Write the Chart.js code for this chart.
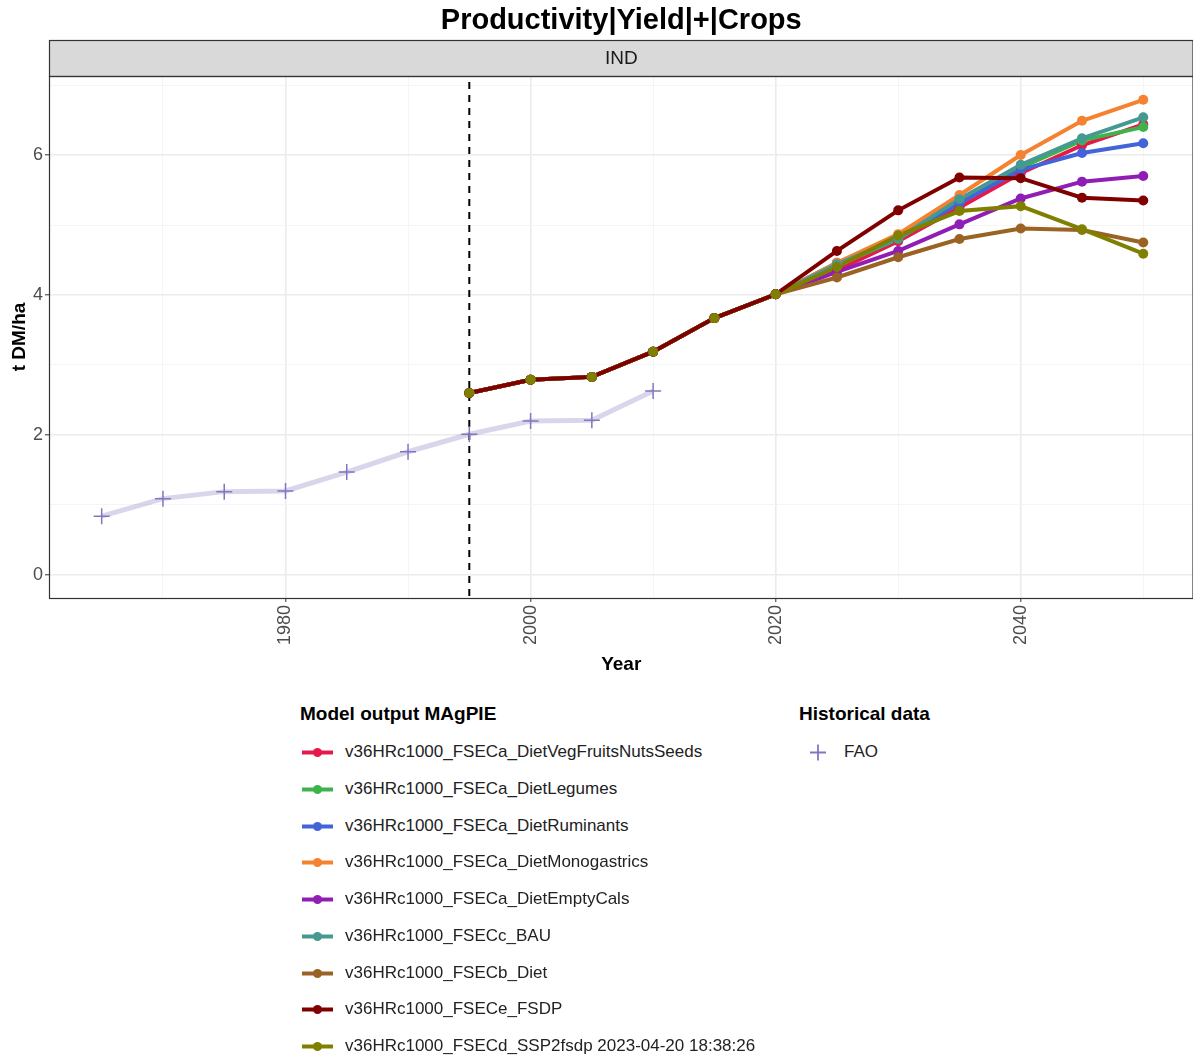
<!DOCTYPE html>
<html lang="en">
<head>
  <meta charset="UTF-8" />
  <title>Productivity|Yield|+|Crops</title>
  <script src="https://cdn.jsdelivr.net/npm/chart.js"></script>
  <style>
    html, body {
      margin: 0;
      overflow: hidden;
      background: #ffffff;
      font-family: 'Liberation Sans', Arial, sans-serif;
      color: #1a1a1a;
    }
    .wrap {
      position: relative;
      width: 1193px;
      height: 1059px;
      overflow: hidden;
    }
    #yieldChart {
      position: absolute;
      left: 0;
      top: 0;
    }
    .legend-group {
      position: absolute;
      top: 702px;
    }
    .legend-group h3 {
      margin: 0 0 8px 0;
      font-size: 19px;
      font-weight: bold;
      height: 24px;
      line-height: 24px;
      color: #000;
    }
    .legend-item {
      position: relative;
      height: 36.75px;
      line-height: 36.75px;
      font-size: 17px;
      color: #222;
      padding-left: 45px;
      white-space: nowrap;
    }
    .legend-item canvas {
      position: absolute;
      left: 0;
      top: 0;
    }
  </style>
</head>
<body>
  <div class="wrap">
    <!-- a little wider than the page: the x axis keeps ~10px spare on the right -->
    <canvas id="yieldChart" width="1203" height="676"></canvas>
    <div class="legend-group" id="model-legend" style="left:300px">
      <h3>Model output MAgPIE</h3>
    </div>
    <div class="legend-group" id="hist-legend" style="left:799px">
      <h3>Historical data</h3>
    </div>
  </div>

  <script>
    const chartTitle = 'Productivity|Yield|+|Crops';
    const region = 'IND';

    // FAO historical data
    const faoYears = [1965, 1970, 1975, 1980, 1985, 1990, 1995, 2000, 2005, 2010];
    const faoValues = [0.84, 1.09, 1.19, 1.20, 1.47, 1.76, 2.01, 2.20, 2.21, 2.63];

    // MAgPIE model runs
    const modelYears = [1995, 2000, 2005, 2010, 2015, 2020, 2025, 2030, 2035, 2040, 2045, 2050];
    const vegFruits   = [2.60, 2.79, 2.83, 3.19, 3.67, 4.01, 4.35, 4.77, 5.25, 5.74, 6.14, 6.44];
    const legumes     = [2.60, 2.79, 2.83, 3.19, 3.67, 4.01, 4.42, 4.80, 5.33, 5.82, 6.21, 6.40];
    const ruminants   = [2.60, 2.79, 2.83, 3.19, 3.67, 4.01, 4.46, 4.82, 5.31, 5.79, 6.03, 6.17];
    const monogastric = [2.60, 2.79, 2.83, 3.19, 3.67, 4.01, 4.46, 4.87, 5.43, 6.00, 6.49, 6.79];
    const emptyCals   = [2.60, 2.79, 2.83, 3.19, 3.67, 4.01, 4.33, 4.63, 5.01, 5.38, 5.62, 5.70];
    const bau         = [2.60, 2.79, 2.83, 3.19, 3.67, 4.01, 4.44, 4.81, 5.37, 5.86, 6.24, 6.54];
    const diet        = [2.60, 2.79, 2.83, 3.19, 3.67, 4.01, 4.25, 4.54, 4.80, 4.95, 4.93, 4.75];
    const fsdp        = [2.60, 2.79, 2.83, 3.19, 3.67, 4.01, 4.63, 5.21, 5.68, 5.67, 5.39, 5.35];
    const ssp2fsdp    = [2.60, 2.79, 2.83, 3.19, 3.67, 4.01, 4.40, 4.85, 5.20, 5.27, 4.94, 4.59];

    const runNames = [
      'v36HRc1000_FSECa_DietVegFruitsNutsSeeds',
      'v36HRc1000_FSECa_DietLegumes',
      'v36HRc1000_FSECa_DietRuminants',
      'v36HRc1000_FSECa_DietMonogastrics',
      'v36HRc1000_FSECa_DietEmptyCals',
      'v36HRc1000_FSECc_BAU',
      'v36HRc1000_FSECb_Diet',
      'v36HRc1000_FSECe_FSDP',
      'v36HRc1000_FSECd_SSP2fsdp 2023-04-20 18:38:26'
    ];
    const runValues = [vegFruits, legumes, ruminants, monogastric, emptyCals, bau, diet, fsdp, ssp2fsdp];
    const runColors = ['#e6194b', '#3cb44b', '#4363d8', '#f58231', '#911eb4', '#469990', '#9a6324', '#800000', '#808000'];
    // line stacking: FSDP line ends up on top, points keep legend order
    const lineOrder = [0, 1, 2, 3, 4, 5, 6, 8, 7];

    const xTicks = [1970, 1980, 1990, 2000, 2010, 2020, 2030, 2040, 2050];
    const yTicks = [0, 1, 2, 3, 4, 5, 6, 7];
    const refYear = 1995;

    const toXY = (xs, ys) => xs.map((x, i) => ({ x: x, y: ys[i] }));

    const datasets = [];
    datasets.push({
      label: 'FAO',
      data: toXY(faoYears, faoValues),
      borderColor: 'rgba(128,120,192,0.3)',
      borderWidth: 5,
      pointStyle: 'cross',
      pointRadius: 8,
      pointBorderWidth: 1.5,
      pointBorderColor: '#7f78c0',
      pointBackgroundColor: '#7f78c0',
      order: 30
    });
    lineOrder.forEach((k, n) => {
      datasets.push({
        label: runNames[k] + ' line',
        data: toXY(modelYears, runValues[k]),
        borderColor: runColors[k],
        borderWidth: 4,
        pointRadius: 0,
        order: 20 - n
      });
    });
    runNames.forEach((name, k) => {
      datasets.push({
        label: name,
        data: toXY(modelYears, runValues[k]),
        showLine: false,
        pointRadius: 5,
        pointBorderWidth: 0,
        pointBackgroundColor: runColors[k],
        order: 10 - k
      });
    });

    const frame = {
      id: 'frame',
      beforeDatasetsDraw(chart) {
        const { ctx, chartArea, scales } = chart;
        const x = scales.x.getPixelForValue(refYear);
        ctx.save();
        ctx.strokeStyle = '#000';
        ctx.lineWidth = 2;
        ctx.setLineDash([7, 6]);
        ctx.beginPath();
        ctx.moveTo(x, chartArea.top + 6);
        ctx.lineTo(x, chartArea.bottom);
        ctx.stroke();
        ctx.restore();
      },
      afterDraw(chart) {
        const { ctx, chartArea } = chart;
        const l = chartArea.left, r = chartArea.right, t = chartArea.top, b = chartArea.bottom;
        ctx.save();
        // strip
        ctx.fillStyle = '#d9d9d9';
        ctx.fillRect(l, 40, r - l, t - 40);
        ctx.strokeStyle = '#333';
        ctx.lineWidth = 1.2;
        ctx.strokeRect(l + 0.5, 40.5, r - l - 1, t - 40);
        // panel border
        ctx.strokeRect(l + 0.5, t + 0.5, r - l - 1, b - t);
        ctx.fillStyle = '#1a1a1a';
        ctx.textAlign = 'center';
        ctx.textBaseline = 'middle';
        ctx.font = '19px "Liberation Sans", Arial, sans-serif';
        ctx.fillText(region, (l + r) / 2, (40 + t) / 2 + 1);
        // title
        ctx.fillStyle = '#000';
        ctx.font = 'bold 29px "Liberation Sans", Arial, sans-serif';
        ctx.fillText(chartTitle, (l + r) / 2, 21);
        ctx.restore();
      }
    };

    const isMajorX = v => v % 20 === 0;
    const isMajorY = v => v % 2 === 0;

    const ctx = document.getElementById('yieldChart').getContext('2d');
    new Chart(ctx, {
      type: 'line',
      data: { datasets: datasets },
      plugins: [frame],
      options: {
        responsive: false,
        animation: false,
        layout: { padding: { top: 76, right: 0, left: 0, bottom: 0 } },
        plugins: {
          legend: { display: false },
          tooltip: { enabled: false }
        },
        scales: {
          x: {
            type: 'linear',
            min: 1960.7,
            max: 2054.1,
            afterBuildTicks: s => { s.ticks = xTicks.map(v => ({ value: v })); },
            afterFit: s => { s.height = 78; },
            border: { display: false },
            grid: {
              color: c => isMajorX(c.tick.value) ? '#ebebeb' : '#f4f4f4',
              lineWidth: c => isMajorX(c.tick.value) ? 1.6 : 0.9,
              tickColor: c => isMajorX(c.tick.value) ? '#333' : 'rgba(0,0,0,0)',
              tickLength: 4,
              tickWidth: 1
            },
            ticks: {
              autoSkip: false,
              maxRotation: 90,
              minRotation: 90,
              padding: 3,
              color: '#4d4d4d',
              font: { size: 18, family: '"Liberation Sans", Arial, sans-serif' },
              callback: v => isMajorX(v) ? String(v) : ''
            },
            title: {
              display: true,
              text: 'Year',
              color: '#000',
              padding: { top: 0, bottom: 0 },
              font: { size: 19, weight: 'bold', family: '"Liberation Sans", Arial, sans-serif' }
            }
          },
          y: {
            min: -0.33,
            max: 7.13,
            afterBuildTicks: s => { s.ticks = yTicks.map(v => ({ value: v })); },
            afterFit: s => { s.width = 49; },
            border: { display: false },
            grid: {
              color: c => isMajorY(c.tick.value) ? '#ebebeb' : '#f4f4f4',
              lineWidth: c => isMajorY(c.tick.value) ? 1.6 : 0.9,
              tickColor: c => isMajorY(c.tick.value) ? '#333' : 'rgba(0,0,0,0)',
              tickLength: 4,
              tickWidth: 1
            },
            ticks: {
              padding: 2,
              color: '#4d4d4d',
              font: { size: 18, family: '"Liberation Sans", Arial, sans-serif' },
              callback: v => isMajorY(v) ? String(v) : ''
            },
            title: {
              display: true,
              text: 't DM/ha',
              color: '#000',
              padding: { top: 8, bottom: 0 },
              font: { size: 19, weight: 'bold', family: '"Liberation Sans", Arial, sans-serif' }
            }
          }
        }
      }
    });

    // legend keys drawn on small canvases
    function addKey(parent, label, drawFn) {
      const item = document.createElement('div');
      item.className = 'legend-item';
      const c = document.createElement('canvas');
      c.width = 36;
      c.height = 37;
      drawFn(c.getContext('2d'));
      item.appendChild(c);
      item.appendChild(document.createTextNode(label));
      parent.appendChild(item);
    }

    const modelLegend = document.getElementById('model-legend');
    runNames.forEach((name, k) => {
      addKey(modelLegend, name, g => {
        g.strokeStyle = runColors[k];
        g.lineWidth = 4;
        g.beginPath();
        g.moveTo(2, 18.5);
        g.lineTo(33, 18.5);
        g.stroke();
        g.fillStyle = runColors[k];
        g.beginPath();
        g.arc(17.5, 18.5, 4.5, 0, Math.PI * 2);
        g.fill();
      });
    });

    addKey(document.getElementById('hist-legend'), 'FAO', g => {
      g.strokeStyle = '#7f78c0';
      g.lineWidth = 1.8;
      g.beginPath();
      g.moveTo(11, 18.5);
      g.lineTo(27, 18.5);
      g.moveTo(19, 10.5);
      g.lineTo(19, 26.5);
      g.stroke();
    });
  </script>
</body>
</html>
